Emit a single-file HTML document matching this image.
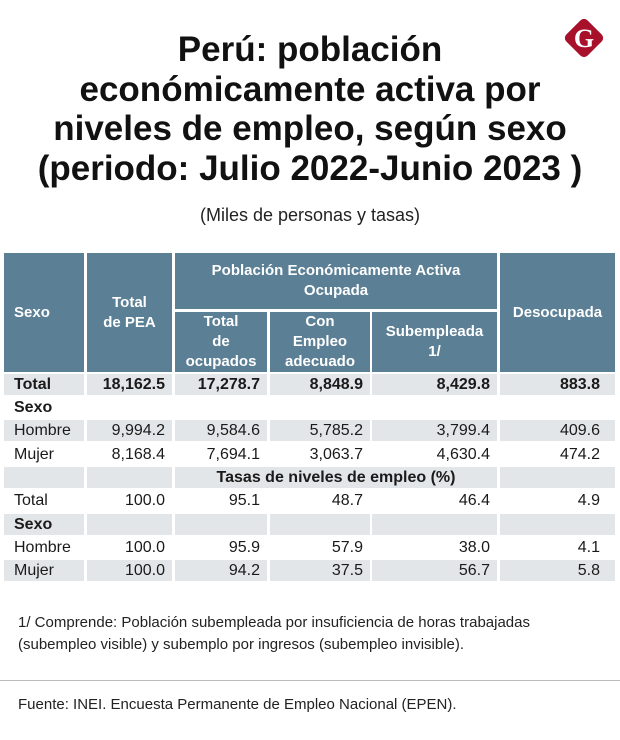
<!DOCTYPE html>
<html><head><meta charset="utf-8">
<style>
body{margin:0;width:620px;height:740px;background:#fff;position:relative;overflow:hidden;font-family:"Liberation Sans",sans-serif;color:#1a1a1a}
.t{position:absolute;left:0;width:620px;text-align:center;font-family:"Liberation Sans Narrow","Liberation Sans",sans-serif;font-weight:bold;font-size:35px;line-height:39.5px;color:#111}
.c{position:absolute;box-sizing:border-box;font-size:16px;line-height:21px;white-space:nowrap}
.h{position:absolute;background:#5b7f95;color:#fff;font-family:"Liberation Sans Narrow","Liberation Sans",sans-serif;font-weight:bold;font-size:15px;line-height:20px;display:flex;align-items:center;justify-content:center;text-align:center;box-sizing:border-box}
</style></head><body>
<svg style="position:absolute;left:560px;top:14px" width="48" height="48" viewBox="0 0 48 48">
<rect x="9" y="9" width="30" height="30" rx="5" fill="#a8112a" transform="rotate(45 24 24)"/>
<text x="24" y="33" text-anchor="middle" font-family="Liberation Serif,serif" font-weight="bold" font-size="26" fill="#fff">G</text></svg>
<div class="t" style="top:30px">Perú: población<br>económicamente activa por<br>niveles de empleo, según sexo<br>(periodo: Julio 2022-Junio 2023 )</div>
<div style="position:absolute;top:205px;left:0;width:620px;text-align:center;font-size:18px;color:#222">(Miles de personas y tasas)</div>
<div id="tbl"></div>
<div style="position:absolute;left:18px;top:612px;font-size:15px;line-height:22px;color:#222">1/ Comprende: Población subempleada por insuficiencia de horas trabajadas<br>(subempleo visible) y subemplo por ingresos (subempleo invisible).</div>
<div style="position:absolute;left:0;top:680px;width:620px;height:1px;background:#bbb"></div>
<div style="position:absolute;left:18px;top:696px;font-size:15px;color:#222">Fuente: INEI. Encuesta Permanente de Empleo Nacional (EPEN).</div>
<script>
const colX=[4,87,175,270,372,500], colR=[84,172,267,370,497,615];
const headers=["Sexo","Total<br>de PEA","Total<br>de<br>ocupados","Con<br>Empleo<br>adecuado","Subempleada<br>1/","Desocupada"];
const rowLabels=["Total","Sexo","Hombre","Mujer","","Total","Sexo","Hombre","Mujer"];
const rowValues=[
["18,162.5","17,278.7","8,848.9","8,429.8","883.8"],null,
["9,994.2","9,584.6","5,785.2","3,799.4","409.6"],
["8,168.4","7,694.1","3,063.7","4,630.4","474.2"],"tasas",
["100.0","95.1","48.7","46.4","4.9"],null,
["100.0","95.9","57.9","38.0","4.1"],
["100.0","94.2","37.5","56.7","5.8"]];
const rowFill=[1,0,1,0,1,0,1,0,1];
const tbl=document.getElementById('tbl');
function cell(cls,x,y,w,h,html){const d=document.createElement('div');d.className=cls;d.style.cssText+=`left:${x}px;top:${y}px;width:${w}px;height:${h}px;`;d.innerHTML=html;tbl.appendChild(d);return d;}
[[0,253,119],[1,253,119],[5,253,119]].forEach(([i,y,h])=>{const d=cell('h',colX[i],y,colR[i]-colX[i],h,headers[i]);

});
{const d=cell('h',175,253,322,56,'Población Económicamente Activa<br>Ocupada');

}
for(let i=2;i<5;i++){const d=cell('h',colX[i],312,colR[i]-colX[i],60,headers[i]);

}
document.querySelectorAll('.h')[0].style.justifyContent='flex-start';
document.querySelectorAll('.h')[0].style.paddingLeft='10px';
const rowTop=[374,397,420,444,467,490,514,537,560];
rowLabels.forEach((lab,r)=>{const y=rowTop[r],h=21;const bold=(r===0||lab==="Sexo");
for(let c=0;c<6;c++){
 const d=cell('c',colX[c],y,colR[c]-colX[c],h,'');
 
 
 if(rowFill[r])d.style.background='#e3e6e8';
 if(bold)d.style.fontWeight='bold';
 if(c===0){d.style.paddingLeft='10px';d.textContent=lab;}
 else if(Array.isArray(rowValues[r])){d.style.textAlign='right';d.style.paddingRight=(c===5?'15px':'7px');d.textContent=rowValues[r][c-1];}
}
if(rowValues[r]==="tasas"){const d=cell('c',175,y,322,h,'Tasas de niveles de empleo (%)');
 
 
 d.style.textAlign='center';d.style.fontWeight='bold';d.style.fontFamily='"Liberation Sans Narrow","Liberation Sans",sans-serif';d.style.background='#e3e6e8';}
});
</script>
</body></html>
